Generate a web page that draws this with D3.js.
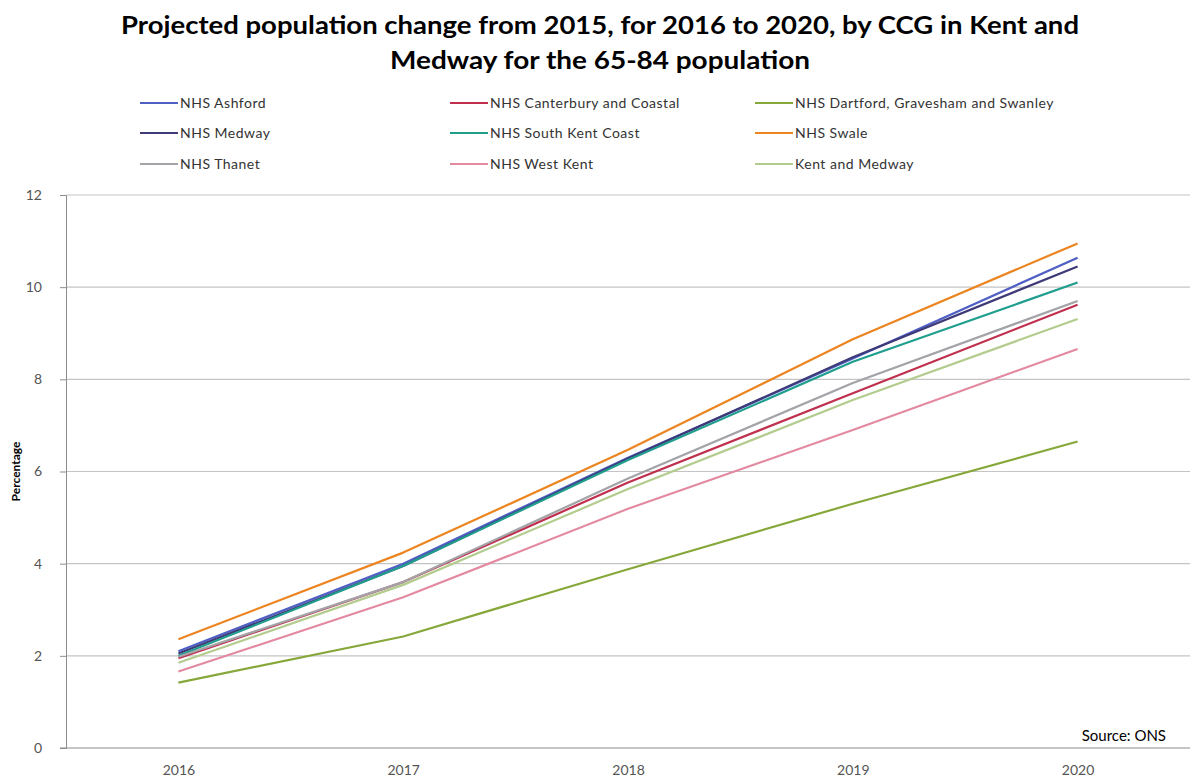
<!DOCTYPE html>
<html>
<head>
<meta charset="utf-8">
<script src="https://cdn.jsdelivr.net/npm/d3@7"></script>
<style>
  body { margin: 0; background: #fff; }
  svg { display: block; font-family: Lato, "Open Sans", sans-serif; }
</style>
</head>
<body>
<div id="chart"></div>
<script>
// years on the category axis
const years = ['2016', '2017', '2018', '2019', '2020'];
const yTicks = [0, 2, 4, 6, 8, 10, 12];

// percentage change from 2015
const ashford = [2.10, 4.00, 6.30, 8.45, 10.64];
const canterbury = [1.95, 3.60, 5.76, 7.70, 9.62];
const dartford = [1.42, 2.42, 3.88, 5.30, 6.65];
const medway = [2.05, 3.95, 6.28, 8.48, 10.45];
const southKent = [2.00, 3.95, 6.25, 8.38, 10.10];
const swale = [2.36, 4.24, 6.47, 8.87, 10.95];
const thanet = [1.98, 3.60, 5.85, 7.92, 9.70];
const westKent = [1.66, 3.27, 5.19, 6.90, 8.66];
const kentMedway = [1.85, 3.54, 5.62, 7.55, 9.31];

const seriesNames = [
  'NHS Ashford', 'NHS Canterbury and Coastal', 'NHS Dartford, Gravesham and Swanley',
  'NHS Medway', 'NHS South Kent Coast', 'NHS Swale',
  'NHS Thanet', 'NHS West Kent', 'Kent and Medway'
];
const seriesValues = [ashford, canterbury, dartford, medway, southKent, swale, thanet, westKent, kentMedway];
const seriesColors = ['#4f5fc4', '#c0304e', '#86a83a', '#3e3a78', '#1f9e8e', '#ec8420', '#a3a3a8', '#e38aa0', '#b3cc8e'];

const W = 1200, H = 783;
const plotL = 66, plotR = 1190, plotT = 195, plotB = 748;

const svg = d3.select('#chart').append('svg')
  .attr('width', W)
  .attr('height', H);

// title
const title = svg.append('g').attr('class', 'title');
title.append('text')
  .attr('x', 600).attr('y', 34)
  .attr('text-anchor', 'middle')
  .attr('font-size', 24).attr('font-weight', 'bold').attr('fill', '#000')
  .attr('textLength', 958).attr('lengthAdjust', 'spacingAndGlyphs')
  .text('Projected population change from 2015, for 2016 to 2020, by CCG in Kent and');
title.append('text')
  .attr('x', 600).attr('y', 69)
  .attr('text-anchor', 'middle')
  .attr('font-size', 24).attr('font-weight', 'bold').attr('fill', '#000')
  .attr('textLength', 420).attr('lengthAdjust', 'spacingAndGlyphs')
  .text('Medway for the 65-84 population');

const x = d3.scalePoint().domain(years).range([plotL, plotR]).padding(0.5);
const y = d3.scaleLinear().domain([0, 12]).range([plotB, plotT]);

// gridlines
svg.append('g')
  .selectAll('line.grid')
  .data(yTicks.filter((d) => d > 0))
  .enter()
  .append('line')
  .attr('class', 'grid')
  .attr('x1', plotL).attr('x2', plotR)
  .attr('y1', (d) => y(d)).attr('y2', (d) => y(d))
  .attr('stroke', '#c4c4c4').attr('stroke-width', 1.2);

// y axis
const yAxis = svg.append('g')
  .attr('transform', `translate(${plotL},0)`)
  .call(d3.axisLeft(y).tickValues(yTicks).tickSize(6).tickPadding(18));
yAxis.select('.domain').attr('stroke', '#8c8c8c');
yAxis.selectAll('.tick line').attr('stroke', '#8c8c8c');
yAxis.selectAll('.tick text')
  .attr('font-size', 14).attr('fill', '#555')
  .attr('font-family', 'Lato, sans-serif');

// x axis
const xAxis = svg.append('g')
  .attr('transform', `translate(0,${plotB})`)
  .call(d3.axisBottom(x).tickSize(0).tickPadding(17));
xAxis.select('.domain').remove();
xAxis.selectAll('.tick text')
  .attr('font-size', 14).attr('fill', '#555')
  .attr('font-family', 'Lato, sans-serif');
svg.append('line')
  .attr('x1', plotL - 6).attr('x2', plotR)
  .attr('y1', plotB).attr('y2', plotB)
  .attr('stroke', '#8c8c8c').attr('stroke-width', 1.2);

svg.append('text')
  .attr('transform', `translate(20,${(plotT + plotB) / 2}) rotate(-90)`)
  .attr('text-anchor', 'middle')
  .attr('font-size', 12).attr('font-weight', 'bold').attr('fill', '#000')
  .text('Percentage');

// lines
const line = d3.line()
  .x((d, i) => x(years[i]))
  .y((d) => y(d));

svg.append('g')
  .selectAll('path.series')
  .data(seriesValues)
  .enter()
  .append('path')
  .attr('class', 'series')
  .attr('d', line)
  .attr('fill', 'none')
  .attr('stroke', (d, i) => seriesColors[i])
  .attr('stroke-width', 2.2)
  .attr('stroke-linejoin', 'round');

// legend, 3 columns
const colX = [140, 450, 755];
const rowY = [103, 133, 164];
const legend = svg.append('g')
  .selectAll('g.legend')
  .data(seriesNames)
  .enter()
  .append('g')
  .attr('class', 'legend')
  .attr('transform', (d, i) => `translate(${colX[i % 3]},${rowY[Math.floor(i / 3)]})`);
legend.append('line')
  .attr('x1', 0).attr('x2', 38)
  .attr('stroke', (d, i) => seriesColors[i])
  .attr('stroke-width', 2.2);
legend.append('text')
  .attr('x', 40).attr('dy', '0.35em')
  .attr('font-size', 14).attr('letter-spacing', 0.5).attr('fill', '#333')
  .text((d) => d);

svg.append('text')
  .attr('x', 1166).attr('y', 741)
  .attr('text-anchor', 'end')
  .attr('font-size', 15).attr('fill', '#000')
  .text('Source: ONS');
</script>
</body>
</html>
